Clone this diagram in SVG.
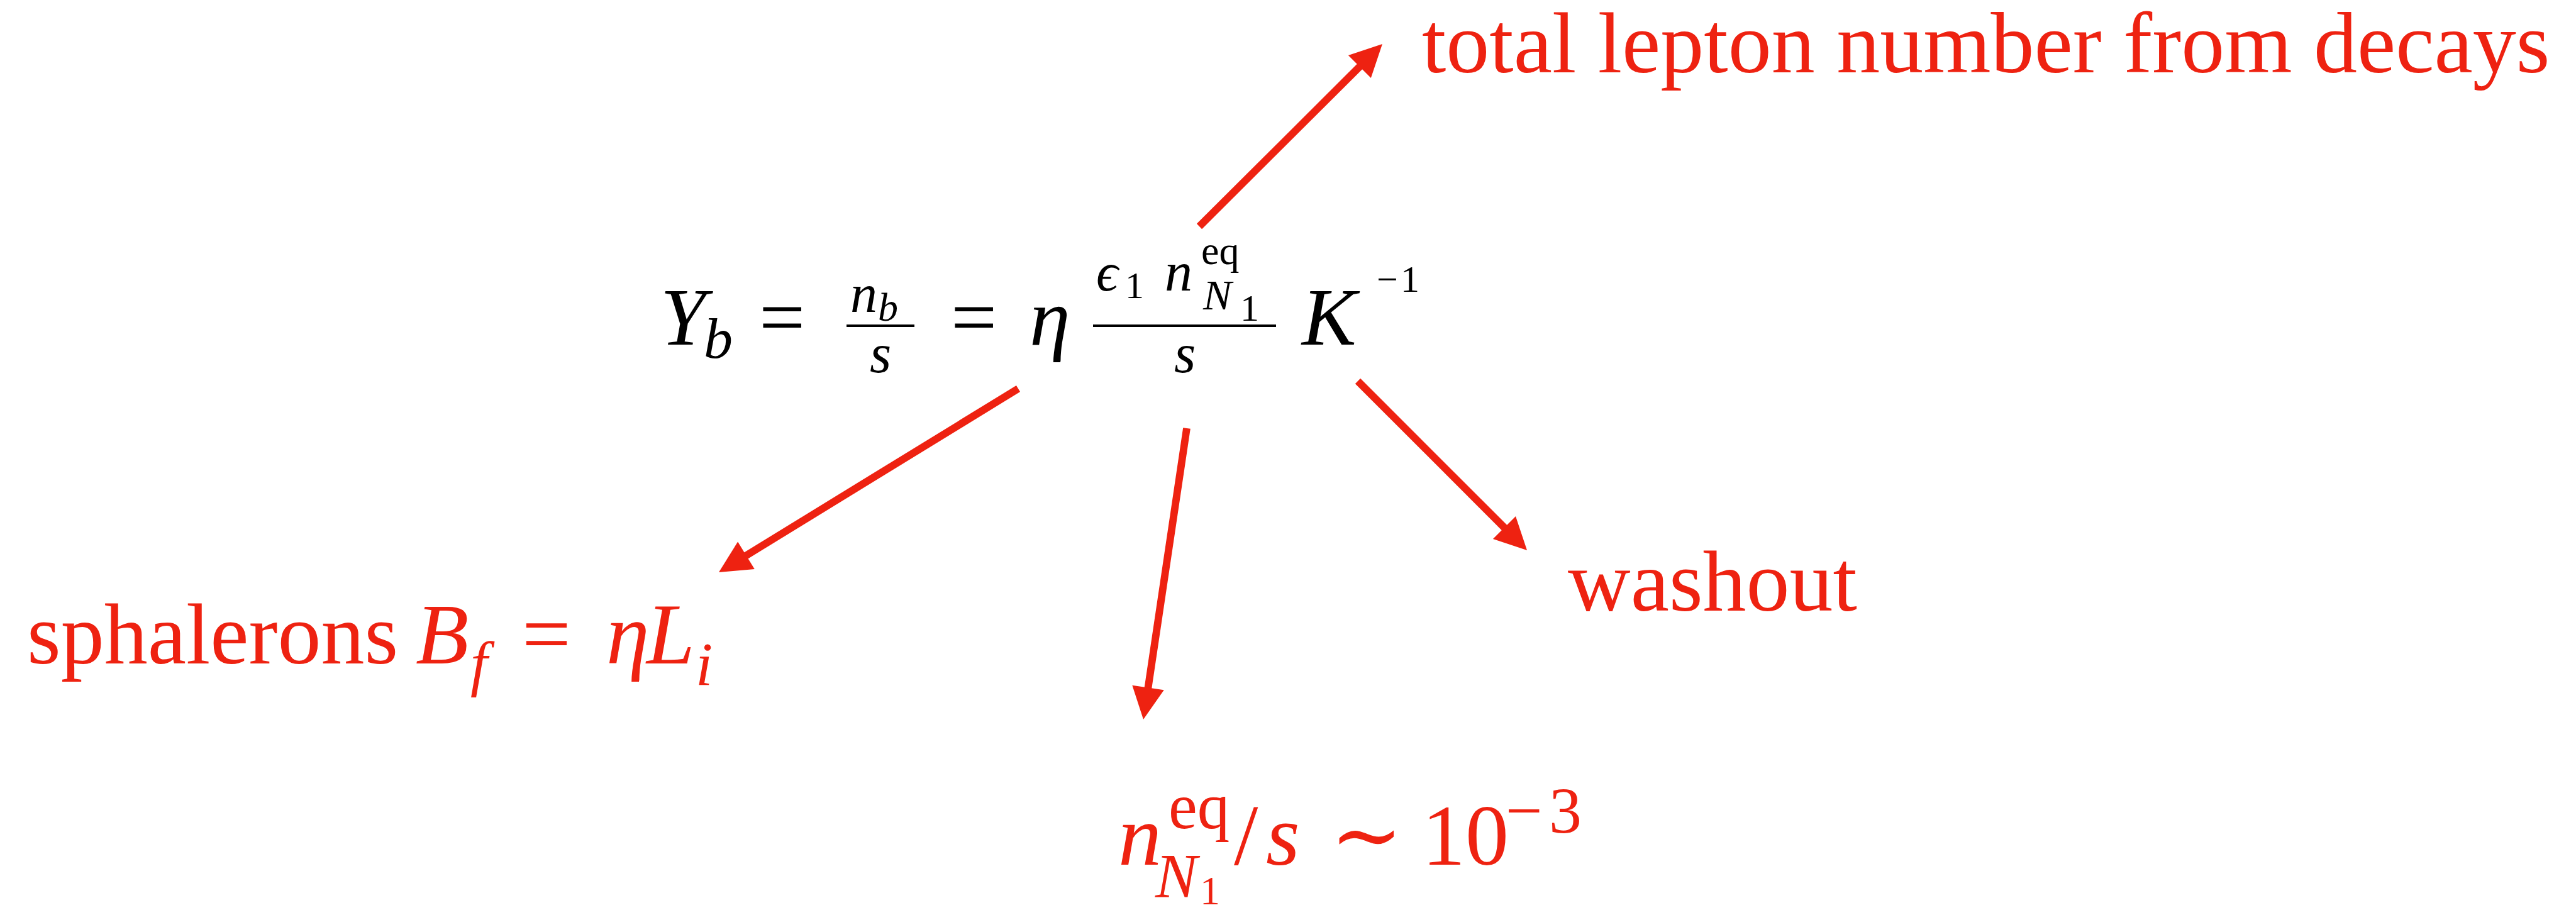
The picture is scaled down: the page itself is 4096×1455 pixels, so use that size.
<svg xmlns="http://www.w3.org/2000/svg" width="4096" height="1455" viewBox="0 0 4096 1455">
<style>
.r{fill:#ee2211;font-family:"Liberation Serif","DejaVu Serif",serif}
.k{fill:#000;font-family:"Liberation Serif","DejaVu Serif",serif}
.i{font-style:italic}
.lbl{font-size:138px}
.conn{stroke:#ee2211;stroke-width:11.75;fill:none;stroke-linecap:butt}
</style>
<defs>
<marker id="ah" markerUnits="userSpaceOnUse" markerWidth="60" markerHeight="60" refX="5" refY="0" orient="auto" style="overflow:visible">
<path d="M0,-25.5 L51,0 L0,25.5 z" fill="#ee2211"/>
</marker>
</defs>
<rect width="4096" height="1455" fill="#fff"/>

<g id="equation">
<text class="k i" x="1050" y="548" font-size="130">Y</text>
<text class="k i" x="1119" y="569" font-size="92">b</text>
<text class="k" x="1207" y="548" font-size="130">=</text>
<text class="k i" x="1352" y="496" font-size="86">n</text>
<text class="k i" x="1396" y="510" font-size="64">b</text>
<rect x="1346" y="516" width="108" height="4" fill="#000"/>
<text class="k i" x="1383" y="592" font-size="88">s</text>
<text class="k" x="1512" y="548" font-size="130">=</text>
<text class="k i" x="1637" y="548" font-size="130">η</text>
<text class="k i" x="1743" y="462" font-size="86">ϵ</text>
<text class="k" x="1789" y="474" font-size="60">1</text>
<text class="k i" x="1852" y="462" font-size="88">n</text>
<text class="k" x="1910" y="420" font-size="64">eq</text>
<text class="k i" x="1913" y="492" font-size="68">N</text>
<text class="k" x="1972" y="510" font-size="60">1</text>
<rect x="1738" y="516" width="291" height="4" fill="#000"/>
<text class="k i" x="1867" y="592" font-size="88">s</text>
<text class="k i" x="2070" y="548" font-size="130">K</text>
<text class="k" x="2189" y="464" font-size="60">−</text>
<text class="k" x="2227" y="464" font-size="60">1</text>
</g>

<g id="label-total">
<text class="r lbl" x="2261" y="115">total lepton number from decays</text>
</g>

<g id="label-sphalerons">
<text class="r lbl" x="43" y="1055">sphalerons</text>
<text class="r lbl i" x="661" y="1055">B</text>
<text class="r i" x="748" y="1088" font-size="98">f</text>
<text class="r lbl" x="830" y="1055">=</text>
<text class="r lbl i" x="964" y="1055">η</text>
<text class="r lbl i" x="1028" y="1055">L</text>
<text class="r i" x="1106" y="1089" font-size="98">i</text>
</g>

<g id="label-neq">
<text class="r lbl i" x="1778" y="1375">n</text>
<text class="r" x="1858" y="1317" font-size="103">eq</text>
<text class="r i" x="1837" y="1426" font-size="100">N</text>
<text class="r" x="1908" y="1438" font-size="64">1</text>
<text class="r lbl" x="1962" y="1375">/</text>
<text class="r lbl i" x="2013" y="1375">s</text>
<text class="r lbl" x="2115" y="1375">∼</text>
<text class="r lbl" x="2261" y="1375">10</text>
<text class="r" x="2394" y="1324" font-size="104">−</text>
<text class="r" x="2463" y="1324" font-size="104">3</text>
</g>

<g id="label-washout">
<text class="r lbl" x="2493" y="971">washout</text>
</g>

<g id="connectors">
<line class="conn" x1="1907" y1="360" x2="2165.4" y2="102.5" marker-end="url(#ah)"/>
<line class="conn" x1="1619" y1="618" x2="1182.2" y2="885.9" marker-end="url(#ah)"/>
<line class="conn" x1="1887" y1="681" x2="1824.8" y2="1098.5" marker-end="url(#ah)"/>
<line class="conn" x1="2159" y1="606" x2="2395.5" y2="842.5" marker-end="url(#ah)"/>
</g>
</svg>
